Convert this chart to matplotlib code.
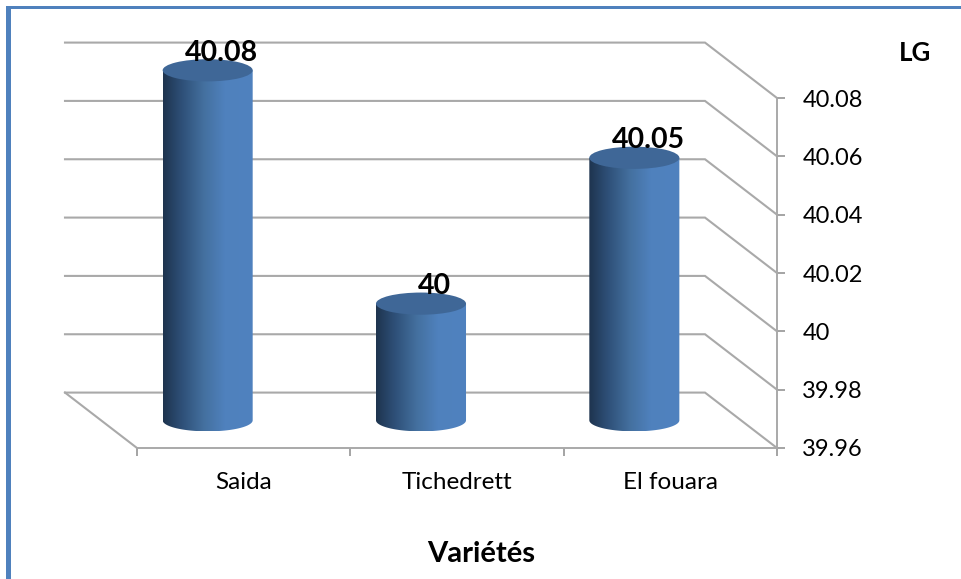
#!/usr/bin/env python3
"""Cylinder chart of LG per variety, drawn on a flat axes with a faked depth offset."""

import numpy as np
import matplotlib
matplotlib.use("Agg")
import matplotlib.pyplot as plt
from matplotlib.patches import Ellipse, Rectangle
from matplotlib.path import Path
from matplotlib.colors import LinearSegmentedColormap

varieties = ["Saida", "Tichedrett", "El fouara"]
lg_values = [40.08, 40.0, 40.05]
value_labels = ["40.08", "40", "40.05"]
y_ticks = [39.96, 39.98, 40.0, 40.02, 40.04, 40.06, 40.08]
y_tick_labels = ["39.96", "39.98", "40", "40.02", "40.04", "40.06", "40.08"]

W, H = 961, 579
BASE = 39.96

# depth of the fake 3D box, in data units
DEPTH_X = -0.3375
DEPTH_Y = 0.0190
BAR_HALF = 0.211
CAP_RY = 0.0038

GRID = "#a9a9a9"
FRAME = "#4f81bd"
CAP = "#3f6797"

plt.rcParams["font.family"] = ["Lato", "DejaVu Sans"]

fig = plt.figure(figsize=(W / 100, H / 100), dpi=100)
fig.patch.set_facecolor("white")

# outer frame, only top and left are visible
fig.add_artist(Rectangle((6 / W, 0), 5 / W, 1 - 6 / H, transform=fig.transFigure, color=FRAME, lw=0))
fig.add_artist(Rectangle((6 / W, 1 - 8.5 / H), 1, 2.5 / H, transform=fig.transFigure, color=FRAME, lw=0))

ax = fig.add_axes([137 / W, (H - 448) / H, 640 / W, (350 + 58.33) / H])
ax.set_xlim(0, 3)
ax.set_ylim(BASE, 40.10)

for s in ["left", "top"]:
    ax.spines[s].set_visible(False)
ax.yaxis.tick_right()
ax.spines["right"].set_bounds(BASE, 40.08)
for s in ["right", "bottom"]:
    ax.spines[s].set_color(GRID)
    ax.spines[s].set_linewidth(1.4)

ax.set_yticks(y_ticks)
ax.set_yticklabels(y_tick_labels, fontsize=17)
ax.tick_params(axis="y", length=5.8, width=1.1, color="#8c8c8c", pad=12.5)

# category boundaries get the tick marks, the names sit between them
ax.set_xticks([0, 1, 2, 3])
ax.set_xticklabels([])
ax.set_xticks([0.5, 1.5, 2.5], minor=True)
ax.set_xticklabels(varieties, minor=True, fontsize=17.5)
ax.tick_params(axis="x", which="major", length=5.8, width=1.1, color="#8c8c8c")
ax.tick_params(axis="x", which="minor", length=0, pad=17.5)

# back wall lines and their diagonals towards the front axis
for v in y_ticks:
    ax.plot([DEPTH_X, 3 + DEPTH_X, 3], [v + DEPTH_Y, v + DEPTH_Y, v],
            color=GRID, lw=1.5, clip_on=False, zorder=1, solid_joinstyle="miter")
ax.plot([DEPTH_X, 0], [BASE + DEPTH_Y, BASE], color=GRID, lw=1.5, clip_on=False, zorder=1)

shade = LinearSegmentedColormap.from_list(
    "cyl", [(0, "#1e344e"), (0.18, "#2c4c73"), (0.45, "#44709f"), (0.68, "#4f81bd"), (1, "#5082bf")])
ramp = np.linspace(0, 1, 256).reshape(1, -1)
theta = np.linspace(np.pi, 2 * np.pi, 60)

for i, val in enumerate(lg_values):
    cx = i + 0.5 + DEPTH_X / 2
    low = BASE + DEPTH_Y / 2
    top = val + DEPTH_Y / 2

    # side of the cylinder: straight edges, round underside, flat top hidden by the cap
    xs = cx + BAR_HALF * np.cos(theta)
    ys = low + CAP_RY * np.sin(theta)
    outline = np.vstack([[cx - BAR_HALF, top], np.column_stack([xs, ys]), [cx + BAR_HALF, top], [cx - BAR_HALF, top]])
    im = ax.imshow(ramp, cmap=shade, aspect="auto", zorder=3, interpolation="bilinear",
                   extent=[cx - BAR_HALF, cx + BAR_HALF, low - CAP_RY, top])
    im.set_clip_path(Path(outline), ax.transData)

    ax.add_patch(Ellipse((cx, top), 2 * BAR_HALF, 2 * CAP_RY, facecolor=CAP, edgecolor="none", zorder=4))
    ax.annotate(value_labels[i], (cx, top), xytext=(10, 12.5), textcoords="offset points",
                ha="center", va="center", fontsize=20.5, fontweight="bold", color="black", zorder=5)

ax.set_xlim(0, 3)
ax.set_ylim(BASE, 40.10)
ax.patch.set_alpha(0)

fig.text(915 / W, 1 - 53 / H, "LG", ha="center", va="center", fontsize=18.5, fontweight="bold")
fig.text(481 / W, 1 - 554 / H, "Variétés", ha="center", va="center", fontsize=21, fontweight="bold")

fig.savefig("out.png", dpi=100)
